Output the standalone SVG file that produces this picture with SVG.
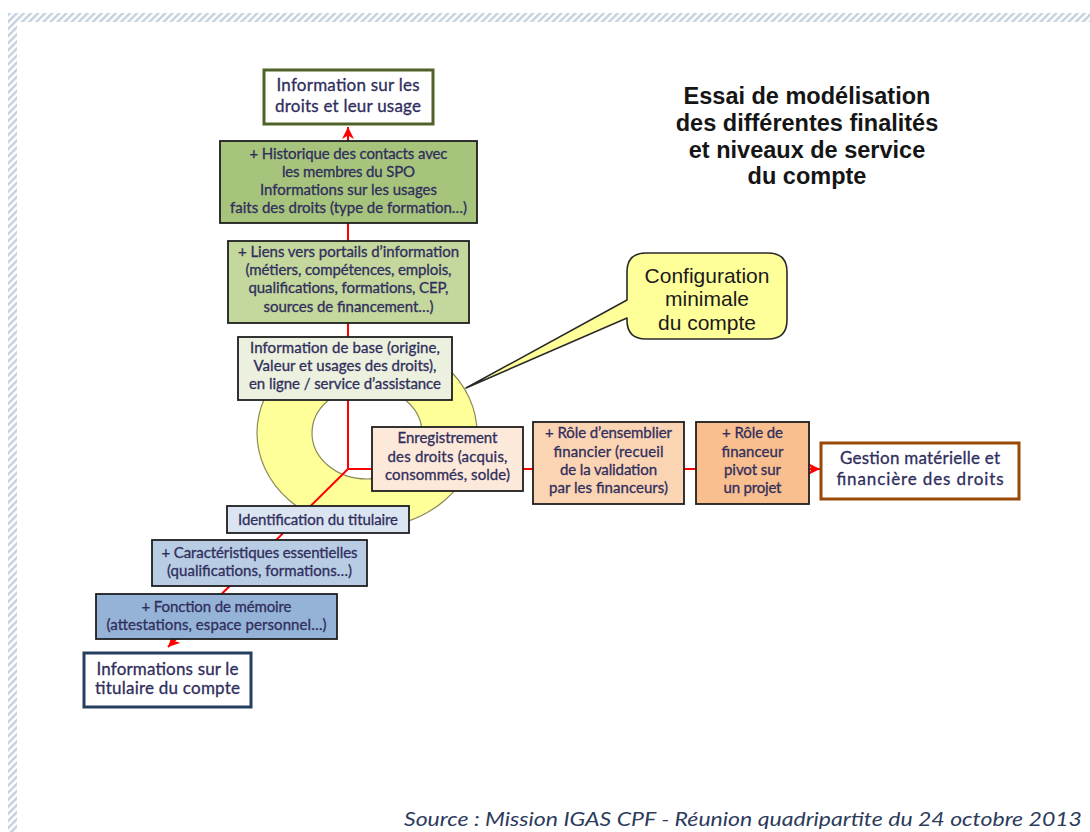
<svg xmlns="http://www.w3.org/2000/svg" width="1090" height="832" viewBox="0 0 1090 832">
  <defs>
    <pattern id="hatch" width="5" height="5" patternUnits="userSpaceOnUse" patternTransform="rotate(45)">
      <rect width="2.4" height="5" fill="#c3d0dd"/>
    </pattern>
    <marker id="arrow" viewBox="0 0 10 10" refX="10" refY="5" markerWidth="12" markerHeight="12" markerUnits="userSpaceOnUse" orient="auto">
      <path d="M0,0 L10,5 L0,10 L3,5 Z" fill="#ff0000"/>
    </marker>
    <style>
      .box { stroke: #1e1e1e; stroke-width: 1.8; }
      .t { font-family: Lato, "Liberation Sans", sans-serif; font-size: 15px; fill: #302e5c; stroke: #302e5c; stroke-width: 0.3; text-anchor: middle; }
      .big { font-size: 17px; }
      .title { font-family: "Liberation Sans", Arial, sans-serif; font-weight: bold; font-size: 23.5px; fill: #151515; text-anchor: middle; }
      .call { font-family: "Liberation Sans", Arial, sans-serif; font-size: 21px; fill: #1a1a1a; text-anchor: middle; }
      .link { fill: none; stroke: #ff0000; stroke-width: 2; }
      .src { font-family: Lato, "Open Sans", sans-serif; font-style: italic; font-size: 20px; fill: #2d3b5c; }
    </style>
  </defs>

  <rect width="1090" height="832" fill="#ffffff"/>

  <!-- hatched page frame -->
  <rect x="8" y="13" width="1082" height="9" fill="url(#hatch)"/>
  <rect x="8" y="22" width="9" height="810" fill="url(#hatch)"/>

  <!-- title -->
  <g id="title">
    <text class="title" x="807" y="104">Essai de modélisation</text>
    <text class="title" x="807" y="131">des différentes finalités</text>
    <text class="title" x="807" y="158">et niveaux de service</text>
    <text class="title" x="807" y="184">du compte</text>
  </g>

  <!-- yellow ring marking the minimal configuration -->
  <g id="ring">
    <path d="M257,433 A110,95 0 1,0 477,433 A110,95 0 1,0 257,433 Z M312,433 A55,46 0 1,1 422,433 A55,46 0 1,1 312,433 Z" fill="#ffff99" fill-rule="evenodd" stroke="#8a8a5a" stroke-width="1.2"/>
  </g>

  <!-- connectors -->
  <g id="connectors">
    <path class="link" d="M348,469 V127" marker-end="url(#arrow)"/>
    <path class="link" d="M348,469 H820" marker-end="url(#arrow)"/>
    <path class="link" d="M348,469 L168,647" marker-end="url(#arrow)"/>
  </g>

  <!-- upward axis: information on rights -->
  <g id="info-droits">
    <rect x="264" y="70" width="169" height="54" fill="#ffffff" stroke="#4f6228" stroke-width="3"/>
    <text class="t big" x="348" y="91" textLength="143">Information sur les</text>
    <text class="t big" x="348" y="112" textLength="146">droits et leur usage</text>
  </g>

  <g id="historique">
    <rect class="box" x="220" y="141" width="257" height="82" fill="#a7c47d"/>
    <text class="t" x="348.5" y="159" textLength="198">+ Historique des contacts avec</text>
    <text class="t" x="348.5" y="177" textLength="133">les membres du SPO</text>
    <text class="t" x="348.5" y="195" textLength="177">Informations sur les usages</text>
    <text class="t" x="348.5" y="213" textLength="237">faits des droits (type de formation…)</text>
  </g>

  <g id="liens-portails">
    <rect class="box" x="228" y="241" width="241" height="82" fill="#c4d79c"/>
    <text class="t" x="348.5" y="257" textLength="221">+ Liens vers portails d’information</text>
    <text class="t" x="348.5" y="275" textLength="206">(métiers, compétences, emplois,</text>
    <text class="t" x="348.5" y="293" textLength="200">qualifications, formations, CEP,</text>
    <text class="t" x="348.5" y="312" textLength="170">sources de financement…)</text>
  </g>

  <g id="info-base">
    <rect class="box" x="238" y="337" width="214" height="63" fill="#ebf1de"/>
    <text class="t" x="345" y="353" textLength="190">Information de base (origine,</text>
    <text class="t" x="345" y="371" textLength="183">Valeur et usages des droits),</text>
    <text class="t" x="345" y="389" textLength="192">en ligne / service d’assistance</text>
  </g>

  <!-- horizontal axis: management of rights -->
  <g id="enregistrement">
    <rect class="box" x="372" y="427" width="151" height="64" fill="#fde9d9"/>
    <text class="t" x="447.5" y="443" textLength="100">Enregistrement</text>
    <text class="t" x="447.5" y="461.5" textLength="120">des droits (acquis,</text>
    <text class="t" x="447.5" y="479.5" textLength="125">consommés, solde)</text>
  </g>

  <g id="ensemblier">
    <rect class="box" x="533" y="422" width="151" height="82" fill="#fbd4b4"/>
    <text class="t" x="608.5" y="438" textLength="127">+ Rôle d’ensemblier</text>
    <text class="t" x="608.5" y="456.5" textLength="110">financier (recueil</text>
    <text class="t" x="608.5" y="475" textLength="97">de la validation</text>
    <text class="t" x="608.5" y="493" textLength="119">par les financeurs)</text>
  </g>

  <g id="financeur-pivot">
    <rect class="box" x="696" y="422" width="113" height="82" fill="#fabf8f"/>
    <text class="t" x="752.5" y="438" textLength="61">+ Rôle de</text>
    <text class="t" x="752.5" y="456.5" textLength="62">financeur</text>
    <text class="t" x="752.5" y="475" textLength="57">pivot sur</text>
    <text class="t" x="752.5" y="493" textLength="58">un projet</text>
  </g>

  <g id="gestion">
    <rect x="821" y="443" width="198" height="56" fill="#ffffff" stroke="#984807" stroke-width="3"/>
    <text class="t big" x="920" y="464" textLength="160">Gestion matérielle et</text>
    <text class="t big" x="920" y="485" textLength="167">financière des droits</text>
  </g>

  <!-- diagonal axis: account holder -->
  <g id="identification">
    <rect class="box" x="227" y="506" width="182" height="27" fill="#dbe5f1"/>
    <text class="t" x="318" y="525" textLength="160">Identification du titulaire</text>
  </g>

  <g id="caracteristiques">
    <rect class="box" x="152" y="540" width="215" height="46" fill="#b8cce4"/>
    <text class="t" x="259.5" y="558" textLength="196">+ Caractéristiques essentielles</text>
    <text class="t" x="259.5" y="576" textLength="185">(qualifications, formations…)</text>
  </g>

  <g id="memoire">
    <rect class="box" x="96" y="594" width="241" height="45" fill="#95b3d7"/>
    <text class="t" x="216.5" y="612" textLength="150">+ Fonction de mémoire</text>
    <text class="t" x="216.5" y="630" textLength="220">(attestations, espace personnel…)</text>
  </g>

  <g id="info-titulaire">
    <rect x="84" y="653" width="167" height="54" fill="#ffffff" stroke="#243f60" stroke-width="3"/>
    <text class="t big" x="167.5" y="675" textLength="142">Informations sur le</text>
    <text class="t big" x="167.5" y="694" textLength="145">titulaire du compte</text>
  </g>

  <!-- speech bubble -->
  <g id="configuration-minimale">
    <path d="M646,253 H768 Q787,253 787,272 V320 Q787,339 768,339 H646 Q627,339 627,320 V318 L466,388 L627,300 V272 Q627,253 646,253 Z" fill="#ffff99" stroke="#2a2a2a" stroke-width="1.6" stroke-linejoin="round"/>
    <text class="call" x="707" y="283">Configuration</text>
    <text class="call" x="707" y="306">minimale</text>
    <text class="call" x="707" y="330">du compte</text>
  </g>

  <text class="src" x="404" y="826" textLength="678" lengthAdjust="spacingAndGlyphs">Source : Mission IGAS CPF - Réunion quadripartite du 24 octobre 2013</text>
</svg>
